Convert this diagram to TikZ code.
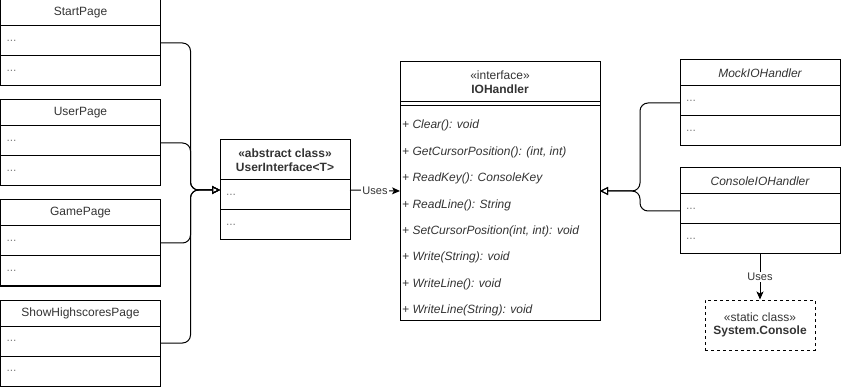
\documentclass[tikz,border=0pt]{standalone}
\usepackage{fontspec}
\setmainfont{Liberation Sans}
\usetikzlibrary{positioning,fit,arrows.meta}

\begin{document}
\begin{tikzpicture}
      [x=1pt, y=-1pt,
       font=\fontsize{12}{14}\selectfont,
       classhead/.style={
           draw=black, line width=1pt,
           outer sep=0pt, inner sep=0pt,
           minimum width=#1, minimum height=26pt,
           align=center, text=black!80
         },
       classhead/.default=160pt,
       classpart/.style={
           draw=black, line width=1pt,
           outer sep=0pt, inner xsep=6pt, inner ysep=0pt,
           text width=#1, minimum height=30pt,
           align=left, text=black!50
         },
       classpart/.default=148pt,
       classbox/.style={fit=#1, inner sep=0pt, outer sep=0pt},
       inherit/.style={
           line width=1pt, rounded corners=8pt,
           -{Triangle[open, length=8pt, width=8pt]}
         },
       uses/.style={
           line width=1pt,
           -{Stealth[length=8pt, width=7pt, inset=2pt]}
         },
       useslabel/.style={fill=white, inner sep=1pt, text=black!80,
           font=\fontsize{11}{13}\selectfont},
       ]
    \useasboundingbox (0,0) rectangle (841,390);

    % pages on the left
    \node [classhead] (starthead) at (80.5,13) {StartPage};
    \node [classpart, below=0pt of starthead] (start1) {...};
    \node [classpart, below=0pt of start1] (start2) {...};
    \node [classbox=(starthead)(start2)] (start) {};

    \node [classhead] (userhead) at (80.5,113) {UserPage};
    \node [classpart, below=0pt of userhead] (user1) {...};
    \node [classpart, below=0pt of user1] (user2) {...};
    \node [classbox=(userhead)(user2)] (user) {};

    \node [classhead] (gamehead) at (80.5,213) {GamePage};
    \node [classpart, below=0pt of gamehead] (game1) {...};
    \node [classpart, below=0pt of game1] (game2) {...};
    \node [classbox=(gamehead)(game2)] (game) {};

    \node [classhead] (scorehead) at (80.5,313) {ShowHighscoresPage};
    \node [classpart, below=0pt of scorehead] (score1) {...};
    \node [classpart, below=0pt of score1] (score2) {...};
    \node [classbox=(scorehead)(score2)] (score) {};

    % abstract base class
    \node [classhead=130pt, minimum height=40pt,
           font=\fontsize{12}{13.5}\selectfont\bfseries] (uihead) at (285,160) {
      «abstract class»\\UserInterface<T>
    };
    \node [classpart=118pt, below=0pt of uihead] (ui1) {...};
    \node [classpart=118pt, below=0pt of ui1] (ui2) {...};
    \node [classbox=(uihead)(ui2)] (ui) {};

    % the interface
    \node [classhead=200pt, minimum height=40pt,
           font=\fontsize{12}{13.5}\selectfont] (iohead) at (500,82) {
      «interface»\\\textbf{IOHandler}
    };
    \node [draw=black, line width=1pt, outer sep=0pt, inner sep=0pt,
           minimum width=200pt, minimum height=4pt,
           below=0pt of iohead] (iosep) {};
    \node [classpart=188pt, minimum height=214pt, below=0pt of iosep] (iobody) {};
    \node [align=left, inner sep=0pt, text=black!80,
           font=\fontsize{12}{26.4}\selectfont\itshape,
           below right=14pt and 2pt of iobody.north west] (iomembers) {
      + Clear(): void\\
      + GetCursorPosition(): (int, int)\\
      + ReadKey(): ConsoleKey\\
      + ReadLine(): String\\
      + SetCursorPosition(int, int): void\\
      + Write(String): void\\
      + WriteLine(): void\\
      + WriteLine(String): void
    };
    \node [classbox=(iohead)(iobody)] (io) {};

    % implementations
    \node [classhead, font=\fontsize{12}{14}\selectfont\itshape] (mockhead) at (760,73) {MockIOHandler};
    \node [classpart, below=0pt of mockhead] (mock1) {...};
    \node [classpart, below=0pt of mock1] (mock2) {...};
    \node [classbox=(mockhead)(mock2)] (mock) {};

    \node [classhead, font=\fontsize{12}{14}\selectfont\itshape] (consolehead) at (760,181) {ConsoleIOHandler};
    \node [classpart, below=0pt of consolehead] (console1) {...};
    \node [classpart, below=0pt of console1] (console2) {...};
    \node [classbox=(consolehead)(console2)] (console) {};

    \node [draw=black, line width=1pt, dash pattern=on 3pt off 3pt,
           minimum width=110pt, minimum height=50pt, inner sep=0pt,
           align=center, text=black!80,
           font=\fontsize{12}{13.5}\selectfont] (sysconsole) at (760,325) {
      «static class»\\\textbf{System.Console}
    };

    % connectors
    \draw [inherit] (start.east) -- ++(30,0) |- (ui.west);
    \draw [inherit] (user.east) -- ++(30,0) |- (ui.west);
    \draw [inherit] (game.east) -- ++(30,0) |- (ui.west);
    \draw [inherit] (score.east) -- ++(30,0) |- (ui.west);

    \draw [uses] (ui.east) -- node [useslabel] {Uses} (io.west);

    \draw [inherit] (mock.west) -- ++(-40,0) |- (io.east);
    \draw [inherit] (console.west) -- ++(-40,0) |- (io.east);

    \draw [uses] (console.south) -- node [useslabel] {Uses} (sysconsole.north);

  \end{tikzpicture}
\end{document}
